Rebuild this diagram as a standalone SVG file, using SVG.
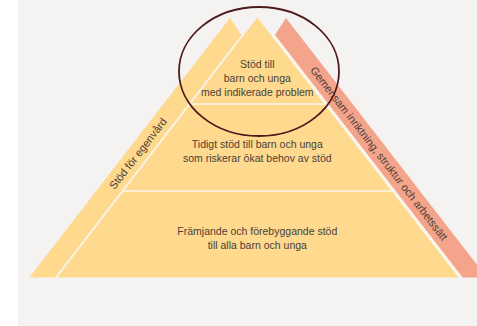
<svg xmlns="http://www.w3.org/2000/svg" width="477" height="326" viewBox="0 0 477 326">
  <style>
    .yel { fill: #fed98e; }
    .red { fill: #f4a48b; }
    .gap { fill: #fbf5ea; }
    .t { font-family: "Liberation Sans", Arial, sans-serif; font-size: 10.5px; fill: #4b3f36; text-anchor: middle; }
    .lbl { font-family: "Liberation Sans", Arial, sans-serif; font-size: 10.9px; fill: #4b3f36; text-anchor: middle; }
  </style>
  <rect x="0" y="0" width="477" height="326" fill="#ffffff"/>
  <rect x="18" y="0" width="459" height="326" fill="#f4f3f1"/>

  <polygon class="gap" points="257.3,17.5 458.5,277.5 57.1,277.5"/>
  <polygon class="gap" points="241.5,35 243.8,35 57.1,277.5 54.8,277.5"/>
  <polygon class="gap" points="270.8,35 275,35 462.7,277.5 458.5,277.5"/>

  <g id="band-left">
    <polygon class="yel" points="230,18 241.5,35 54.8,277.5 29.3,277.5"/>
    <text class="lbl" transform="translate(138,153.5) rotate(-52.3)" dy="0.35em">Stöd för egenvård</text>
  </g>

  <g id="band-right">
    <polygon class="red" points="286,18 486.9,277.5 462.7,277.5 275,35"/>
    <text class="lbl" transform="translate(379,153.5) rotate(52.25)" dy="0.35em">Gemensam inriktning, struktur och arbetssätt</text>
  </g>

  <g id="tier-top">
    <polygon class="yel" points="257.3,17.5 323.6,103.2 191.3,103.2"/>
    <text class="t" x="257.3" y="68.3">Stöd till</text>
    <text class="t" x="257.3" y="82.2">barn och unga</text>
    <text class="t" x="257.3" y="95.6">med indikerade problem</text>
  </g>

  <g id="tier-middle">
    <polygon class="yel" points="190.1,104.8 324.9,104.8 391,190.2 124.3,190.2"/>
    <text class="t" x="257.3" y="147.7">Tidigt stöd till barn och unga</text>
    <text class="t" x="257.3" y="161.6">som riskerar ökat behov av stöd</text>
  </g>

  <g id="tier-bottom">
    <polygon class="yel" points="123.1,191.8 392.2,191.8 458.5,277.5 57.1,277.5"/>
    <text class="t" x="257.3" y="235">Främjande och förebyggande stöd</text>
    <text class="t" x="257.3" y="249.2">till alla barn och unga</text>
  </g>

  <g id="connectors">
    <ellipse cx="259" cy="71.5" rx="80" ry="64.5" fill="none" stroke="#4e1a1c" stroke-width="1.8"/>
  </g>
</svg>
